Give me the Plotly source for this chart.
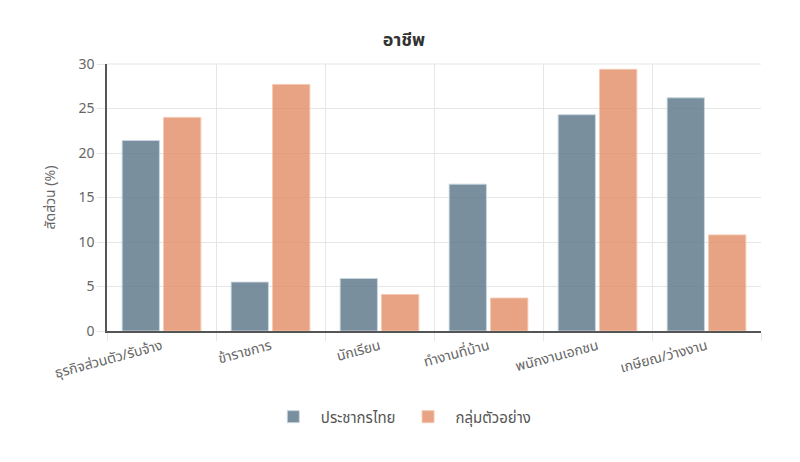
import plotly.graph_objects as go

categories = ["ธุรกิจส่วนตัว/รับจ้าง", "ข้าราชการ", "นักเรียน", "ทำงานที่บ้าน", "พนักงานเอกชน", "เกษียณ/ว่างงาน"]
thai_pop = [21.4, 5.5, 5.9, 16.5, 24.3, 26.2]
sample = [24.0, 27.7, 4.1, 3.7, 29.4, 10.8]
series_names = ["ประชากรไทย", "กลุ่มตัวอย่าง"]

font_family = "Noto Sans Thai, Noto Sans, DejaVu Sans, sans-serif"

fig = go.Figure()
fig.add_trace(go.Bar(x=categories, y=thai_pop, name=series_names[0],
                     marker=dict(color="rgba(96,122,140,0.84)", line=dict(color="rgba(200,215,225,0.9)", width=1))))
fig.add_trace(go.Bar(x=categories, y=sample, name=series_names[1],
                     marker=dict(color="rgba(225,140,100,0.8)", line=dict(color="rgba(245,200,175,0.9)", width=1))))

fig.update_layout(
    width=792, height=454,
    margin=dict(l=99, r=39, t=56, b=131, autoexpand=False),
    paper_bgcolor="white", plot_bgcolor="white",
    font=dict(family=font_family, size=13, color="#666"),
    title=dict(text="<b>อาชีพ</b>", x=0.5, xanchor="center", y=0.93, yanchor="middle",
               font=dict(size=18, color="#333", family=font_family)),
    barmode="group", bargap=0.24, bargroupgap=0.1,
    showlegend=True,
    legend=dict(orientation="h", x=0.45, xanchor="center", y=-0.26, yanchor="top",
                itemwidth=45, font=dict(size=15, color="#555")),
)
fig.update_xaxes(
    type="category", tickson="boundaries", showgrid=True, gridcolor="#e6e6e6", gridwidth=1,
    ticks="outside", ticklen=8, tickcolor="#e6e6e6", tickangle=-15,
    showline=True, linecolor="#555", linewidth=1.5, automargin=False,
    tickfont=dict(size=14, color="#666"),
)
fig.update_yaxes(
    range=[0, 30], dtick=5, showgrid=True, gridcolor="#e6e6e6", gridwidth=1,
    ticks="outside", ticklen=8, tickcolor="#e6e6e6",
    showline=True, linecolor="#555", linewidth=1.5, zeroline=False, automargin=False,
    title=dict(text="สัดส่วน (%)", font=dict(size=14, color="#666"), standoff=20),
    tickfont=dict(size=14, color="#666"),
)
fig.add_shape(type="line", xref="paper", yref="paper", x0=0, x1=1, y0=1, y1=1,
              line=dict(color="#e6e6e6", width=1))

fig.write_html("out.html")
